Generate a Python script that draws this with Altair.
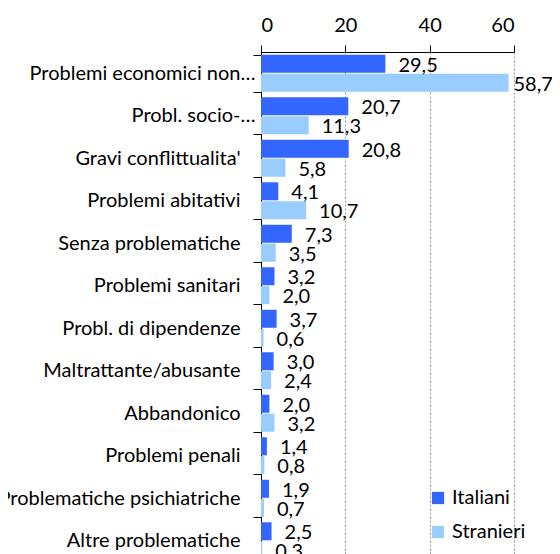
import altair as alt
import pandas as pd

categorie = [
    "Problemi economici non…",
    "Probl. socio-…",
    "Gravi conflittualita'",
    "Problemi abitativi",
    "Senza problematiche",
    "Problemi sanitari",
    "Probl. di dipendenze",
    "Maltrattante/abusante",
    "Abbandonico",
    "Problemi penali",
    "Problematiche psichiatriche",
    "Altre problematiche",
]
italiani = [29.5, 20.7, 20.8, 4.1, 7.3, 3.2, 3.7, 3.0, 2.0, 1.4, 1.9, 2.5]
stranieri = [58.7, 11.3, 5.8, 10.7, 3.5, 2.0, 0.6, 2.4, 3.2, 0.8, 0.7, 0.3]
serie = ["Italiani", "Stranieri"]
colori = ["#3366FF", "#99CCFF"]
x_ticks = [0, 20, 40, 60]

rows = []
for c, a, b in zip(categorie, italiani, stranieri):
    for s, v in zip(serie, [a, b]):
        rows.append({"Categoria": c, "Serie": s, "Valore": v,
                     "Label": f"{v:.1f}".replace(".", ",")})
df = pd.DataFrame(rows)

FONT = "Lato"
FS = 20

y_enc = alt.Y(
    "Categoria:N", sort=categorie,
    scale=alt.Scale(paddingInner=0.13, paddingOuter=0.065),
    axis=alt.Axis(
        title=None, grid=False, tickBand="extent", tickSize=8,
        tickColor="black", domainColor="black", labelColor="black",
        labelFont=FONT, labelFontSize=FS, labelLimit=0,
        labelPadding={"condition": {"test": "indexof(datum.label, '…') >= 0", "value": -2},
                      "value": 13},
    ),
)
yoff_enc = alt.YOffset("Serie:N", sort=serie, scale=alt.Scale(paddingInner=0.05))
x_enc = alt.X(
    "Valore:Q", scale=alt.Scale(domain=[0, 60], nice=False),
    axis=alt.Axis(
        orient="top", title=None, values=x_ticks, tickSize=7,
        tickColor="black", domainColor="black", labelColor="black",
        labelFont=FONT, labelFontSize=FS, labelPadding=10,
        grid=True, gridDash=[2, 2], gridColor="#999999",
    ),
)

base = alt.Chart(df).encode(y=y_enc, yOffset=yoff_enc, x=x_enc)

bars = base.mark_bar().encode(
    color=alt.Color(
        "Serie:N", sort=serie,
        scale=alt.Scale(domain=serie, range=colori),
        legend=alt.Legend(
            title=None, orient="none", legendX=167, legendY=436,
            symbolType="square", symbolSize=150, symbolStrokeWidth=0,
            labelFont=FONT, labelFontSize=FS, labelColor="black",
            rowPadding=14, padding=0, labelOffset=4,
        ),
    )
)
labels = base.mark_text(align="left", baseline="middle", dx=13, dy=2,
                        font=FONT, fontSize=FS, color="black").encode(
    text="Label:N").transform_filter("datum.Valore < 55")
labels_big = base.mark_text(align="left", baseline="middle", dx=5, dy=2,
                            font=FONT, fontSize=FS, color="black").encode(
    text="Label:N").transform_filter("datum.Valore >= 55")

chart = alt.layer(bars, labels, labels_big).properties(
    width=253, height=510,
    padding={"left": 253, "top": 44, "right": 38, "bottom": -8},
    autosize=alt.AutoSizeParams(type="none"),
).configure_view(stroke=None)

chart.save("out.html", embed_options={"renderer": "svg", "actions": False})
